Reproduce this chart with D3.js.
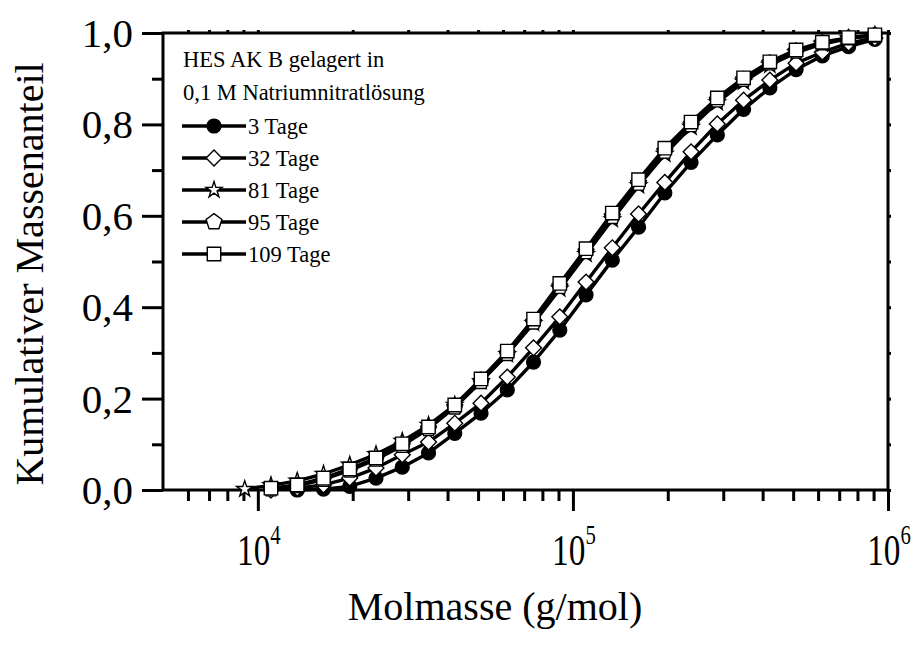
<!DOCTYPE html>
<html>
<head>
<meta charset="utf-8">
<script src="https://cdn.jsdelivr.net/npm/d3@7/dist/d3.min.js"></script>
<style>
  html, body { margin: 0; padding: 0; background: #fff; }
  svg { display: block; }
  text { font-family: "Liberation Serif", "Times New Roman", serif; fill: #000; }
</style>
</head>
<body>
<svg id="chart" width="918" height="651"></svg>
<script>
// Molar mass grid (g/mol), shared by all series
const molmasse = [9085, 11007, 13335, 16156, 19573, 23714, 28730, 34807, 42170, 51090,
  61897, 74989, 90852, 110069, 133352, 161560, 195734, 237137, 287298, 348070,
  421697, 510897, 618966, 749894, 908518];

// Cumulative mass fraction per storage time (null = no point)
const tage3 = [null, null, 0.000, 0.002, 0.008, 0.026, 0.050, 0.081, 0.124, 0.168,
  0.219, 0.280, 0.350, 0.427, 0.503, 0.575, 0.650, 0.717, 0.777, 0.833,
  0.880, 0.920, 0.950, 0.970, 0.986];
const tage32 = [null, 0.000, 0.004, 0.011, 0.026, 0.048, 0.077, 0.105, 0.146, 0.190,
  0.247, 0.311, 0.379, 0.455, 0.530, 0.604, 0.673, 0.740, 0.801, 0.853,
  0.897, 0.934, 0.958, 0.978, 0.989];
const tage81 = [0.002, 0.010, 0.020, 0.035, 0.055, 0.078, 0.107, 0.142, 0.186, 0.238,
  0.297, 0.365, 0.440, 0.516, 0.592, 0.666, 0.735, 0.794, 0.848, 0.893,
  0.930, 0.957, 0.976, 0.988, 0.995];
const tage95 = [null, 0.002, 0.009, 0.023, 0.043, 0.067, 0.097, 0.134, 0.181, 0.237,
  0.298, 0.367, 0.445, 0.521, 0.598, 0.671, 0.741, 0.799, 0.853, 0.898,
  0.934, 0.960, 0.978, 0.989, 0.995];
const tage109 = [null, 0.004, 0.011, 0.026, 0.046, 0.070, 0.101, 0.138, 0.186, 0.243,
  0.304, 0.374, 0.452, 0.528, 0.606, 0.679, 0.748, 0.805, 0.858, 0.902,
  0.937, 0.963, 0.980, 0.990, 0.996];

const seriesNames = ["3 Tage", "32 Tage", "81 Tage", "95 Tage", "109 Tage"];
const legendTitle = ["HES AK B gelagert in", "0,1 M Natriumnitratlösung"];
const yTicks = [0, 0.2, 0.4, 0.6, 0.8, 1.0];
const yMinorTicks = [0.1, 0.3, 0.5, 0.7, 0.9];
const xTicks = [1e4, 1e5, 1e6];
const xMinorTicks = [6000, 7000, 8000, 9000,
  2e4, 3e4, 4e4, 5e4, 6e4, 7e4, 8e4, 9e4,
  2e5, 3e5, 4e5, 5e5, 6e5, 7e5, 8e5, 9e5];

const svg = d3.select("#chart");
svg.append("rect").attr("width", 918).attr("height", 651).attr("fill", "#fff");

const mLeft = 163, mRight = 888, mTop = 33, mBottom = 490;
const x = d3.scaleLog().domain([5000, 1e6]).range([mLeft, mRight]);
const y = d3.scaleLinear().domain([0, 1]).range([mBottom, mTop]);

// Pentagon symbol
const symbolPentagon = {
  draw(ctx, size) {
    const r = Math.sqrt(size / 2.3776);
    for (let i = 0; i < 5; i++) {
      const a = -Math.PI / 2 + i * 2 * Math.PI / 5;
      const px = r * Math.cos(a), py = r * Math.sin(a);
      if (i === 0) ctx.moveTo(px, py); else ctx.lineTo(px, py);
    }
    ctx.closePath();
  }
};

const markerDefs = [
  { type: d3.symbolCircle, size: 150, fill: "#000", rot: 0 },
  { type: d3.symbolSquare, size: 125, fill: "#fff", rot: 45 },
  { type: d3.symbolStar, size: 80, fill: "#fff", rot: 0 },
  { type: symbolPentagon, size: 165, fill: "#fff", rot: 0 },
  { type: d3.symbolSquare, size: 180, fill: "#fff", rot: 0 }
];
const seriesData = [tage3, tage32, tage81, tage95, tage109];

// Axes: ticks
const axisG = svg.append("g");
function tickStyle(g) {
  g.select(".domain").remove();
  g.selectAll(".tick line").attr("stroke", "#000").attr("stroke-width", 3);
  g.selectAll(".tick text").remove();
}
axisG.append("g").attr("transform", `translate(0,${mBottom})`)
  .call(d3.axisBottom(x).tickValues(xTicks).tickSize(21)).call(tickStyle);
axisG.append("g").attr("transform", `translate(0,${mBottom})`)
  .call(d3.axisBottom(x).tickValues(xMinorTicks).tickSize(11)).call(tickStyle);
axisG.append("g").attr("transform", `translate(${mLeft},0)`)
  .call(d3.axisLeft(y).tickValues(yTicks).tickSize(21)).call(tickStyle);
axisG.append("g").attr("transform", `translate(${mLeft},0)`)
  .call(d3.axisLeft(y).tickValues(yMinorTicks).tickSize(11)).call(tickStyle);
axisG.append("g").attr("transform", `translate(0,${mTop})`)
  .call(d3.axisTop(x).tickValues(xTicks.concat(xMinorTicks)).tickSize(3)).call(tickStyle);
axisG.append("g").attr("transform", `translate(${mRight},0)`)
  .call(d3.axisRight(y).tickValues(yTicks.concat(yMinorTicks)).tickSize(3)).call(tickStyle);

// Frame
svg.append("rect")
  .attr("x", mLeft).attr("y", mTop)
  .attr("width", mRight - mLeft).attr("height", mBottom - mTop)
  .attr("fill", "none").attr("stroke", "#000").attr("stroke-width", 3);

// Y tick labels
svg.append("g").selectAll("text").data(yTicks).join("text")
  .attr("x", mLeft - 30)
  .attr("y", d => y(d) + 14)
  .attr("text-anchor", "end")
  .attr("font-size", 41)
  .text(d => d3.format(".1f")(d).replace(".", ","));

// X tick labels (powers of ten)
const xl = svg.append("g").selectAll("g").data(xTicks).join("g")
  .attr("transform", d => `translate(${x(d) + 1},565) scale(0.74,1)`);
const xt = xl.append("text").attr("text-anchor", "middle").attr("font-size", 45);
xt.append("tspan").text("10");
xt.append("tspan").attr("font-size", 28).attr("dy", -21)
  .text(d => String(Math.round(Math.log10(d))));

// Axis titles
svg.append("text")
  .attr("x", 495).attr("y", 620)
  .attr("text-anchor", "middle").attr("font-size", 40)
  .text("Molmasse (g/mol)");
svg.append("text")
  .attr("transform", "translate(43,274) rotate(-90)")
  .attr("text-anchor", "middle").attr("font-size", 40)
  .text("Kumulativer Massenanteil");

// Curves and markers
const plot = svg.append("g");
const line = d3.line()
  .defined(d => d.v !== null)
  .x(d => x(d.m)).y(d => y(d.v));

seriesData.forEach((vals, i) => {
  const pts = vals.map((v, j) => ({ m: molmasse[j], v }));
  const g = plot.append("g");
  g.append("path")
    .datum(pts)
    .attr("d", line)
    .attr("fill", "none")
    .attr("stroke", "#000")
    .attr("stroke-width", 3.4)
    .attr("stroke-linejoin", "round");
  const md = markerDefs[i];
  g.selectAll("path.mk").data(pts.filter(d => d.v !== null)).join("path")
    .attr("class", "mk")
    .attr("d", d3.symbol().type(md.type).size(md.size))
    .attr("transform", d => `translate(${x(d.m)},${y(d.v)}) rotate(${md.rot})`)
    .attr("fill", md.fill)
    .attr("stroke", "#000")
    .attr("stroke-width", 1.4);
});

// Legend
const leg = svg.append("g");
leg.selectAll("text.title").data(legendTitle).join("text")
  .attr("class", "title")
  .attr("x", 183).attr("y", (d, i) => 67 + i * 33)
  .attr("font-size", 22.5)
  .text(d => d);
const rows = leg.selectAll("g.row").data(seriesNames).join("g")
  .attr("class", "row")
  .attr("transform", (d, i) => `translate(0,${126 + i * 32})`);
rows.append("line")
  .attr("x1", 182).attr("x2", 246).attr("y1", 0).attr("y2", 0)
  .attr("stroke", "#000").attr("stroke-width", 3.6);
rows.append("path")
  .attr("d", (d, i) => d3.symbol().type(markerDefs[i].type).size(markerDefs[i].size)())
  .attr("transform", (d, i) => `translate(214,0) rotate(${markerDefs[i].rot})`)
  .attr("fill", (d, i) => markerDefs[i].fill)
  .attr("stroke", "#000").attr("stroke-width", 1.4);
rows.append("text")
  .attr("x", 248).attr("y", 8)
  .attr("font-size", 22.5)
  .text(d => d);
</script>
</body>
</html>
